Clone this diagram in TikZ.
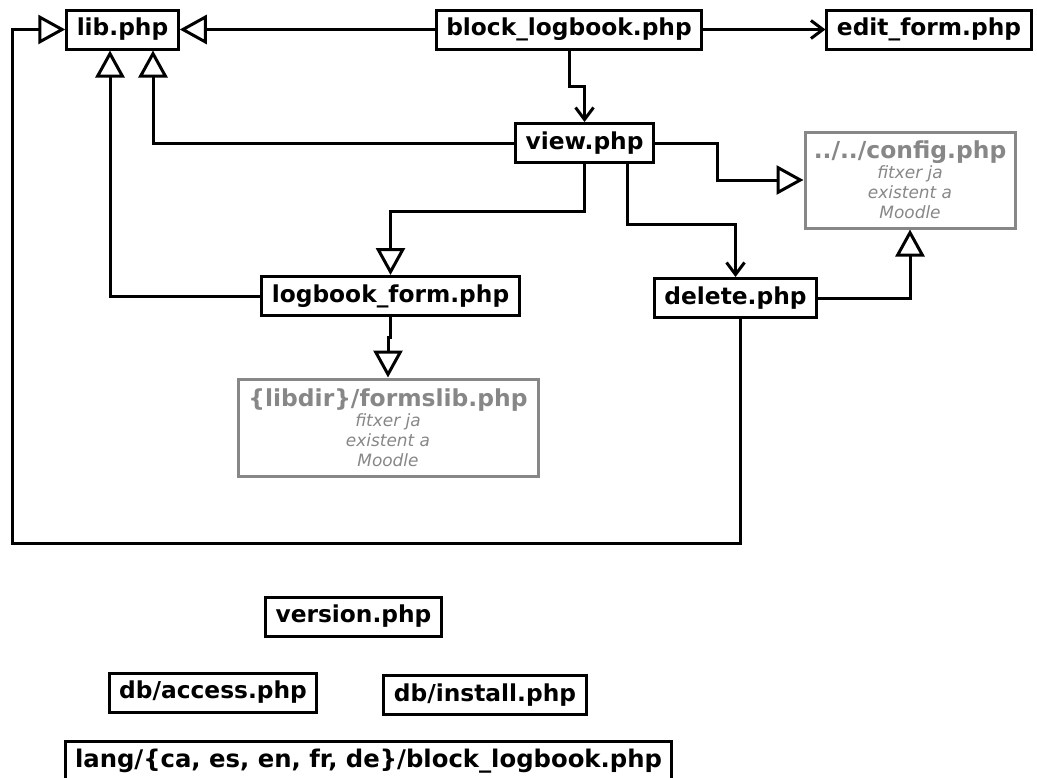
\documentclass[tikz,border=0pt]{standalone}
\usepackage{fontspec}
\setmainfont{DejaVu Sans}
\usetikzlibrary{arrows.meta}
\definecolor{extgray}{rgb}{0.53,0.53,0.53}
\tikzset{
  file/.style={draw,inner xsep=10bp,minimum height=39bp,
    font=\fontsize{23.4}{27}\selectfont\bfseries},
  extfile/.style={draw=extgray,text=extgray,align=center,inner sep=4bp,
    font=\fontsize{17}{20}\selectfont\itshape},
  uses/.style={-{Triangle[open,length=27bp,width=29bp]}},
  calls/.style={-{Straight Barb[length=12bp,width=18bp]}},
}
\newcommand{\extnote}[1]{\textbf{\textup{\fontsize{23.5}{26}\selectfont #1}}\\ fitxer ja\\ existent a\\ Moodle}
\begin{document}
\begin{tikzpicture}[line width=3bp,line join=miter]
  \useasboundingbox (0bp,0bp) rectangle (1037bp,-778bp);
%%
  % Node: lib
  \node[file] (lib) at (122.5bp,-29.5bp) {lib.php};
  % Node: block
  \node[file] (block) at (569bp,-29.5bp) {block\_logbook.php};
  % Node: editform
  \node[file] (editform) at (929bp,-29.5bp) {edit\_form.php};
  % Node: view
  \node[file] (view) at (584.5bp,-143bp) {view.php};
  % Node: config
  \node[extfile,minimum width=210bp,minimum height=96bp] (config) at (910bp,-180bp)
    {\extnote{../../config.php}};
  % Node: logform
  \node[file] (logform) at (390.5bp,-296bp) {logbook\_form.php};
  % Node: delete
  \node[file] (delete) at (735.5bp,-298bp) {delete.php};
  % Node: formslib
  \node[extfile,minimum width=300bp,minimum height=97bp] (formslib) at (388bp,-427.5bp)
    {\extnote{\{libdir\}/formslib.php}};
  % Node: version
  \node[file] (version) at (353.5bp,-616.5bp) {version.php};
  % Node: access
  \node[file] (access) at (213bp,-692.5bp) {db/access.php};
  % Node: install
  \node[file] (install) at (485bp,-695bp) {db/install.php};
  % Node: lang
  \node[file,minimum width=599bp,font=\fontsize{24.4}{28}\selectfont\bfseries] (lang) at (368.5bp,-761bp)
    {lang/\{ca, es, en, fr, de\}/block\_logbook.php};
%%
  % Edge: block -> lib
  \draw [uses] (block) -- (lib);
  % Edge: block -> editform
  \draw [calls] (block) -- (editform);
  % Edge: block -> view
  \draw [calls] (block.south) -- ++(0,-36bp) -| (view.north);
  % Edge: view -> lib
  \draw [uses] (view.west) -| ([xshift=30.5bp]lib.south);
  % Edge: logform -> lib
  \draw [uses] (logform.west) -| ([xshift=-12.5bp]lib.south);
  % Edge: delete -> lib
  \draw [uses] ([xshift=5bp]delete.south) -- ++(0,-224bp) -| ([xshift=-53bp]lib.west) -- (lib.west);
  % Edge: view -> config
  \draw [uses] (view.east) -- ++(63bp,0) |- (config.west);
  % Edge: view -> logform
  \draw [uses] (view.south) -- ++(0,-47bp) -| (logform.north);
  % Edge: view -> delete
  \draw [calls] ([xshift=43bp]view.south) -- ++(0,-60bp) -| (delete.north);
  % Edge: delete -> config
  \draw [uses] (delete.east) -| (config.south);
  % Edge: logform -> formslib
  \draw [uses] (logform.south) -- ++(0,-20bp) -| (formslib.north);
%
\end{tikzpicture}
\end{document}
